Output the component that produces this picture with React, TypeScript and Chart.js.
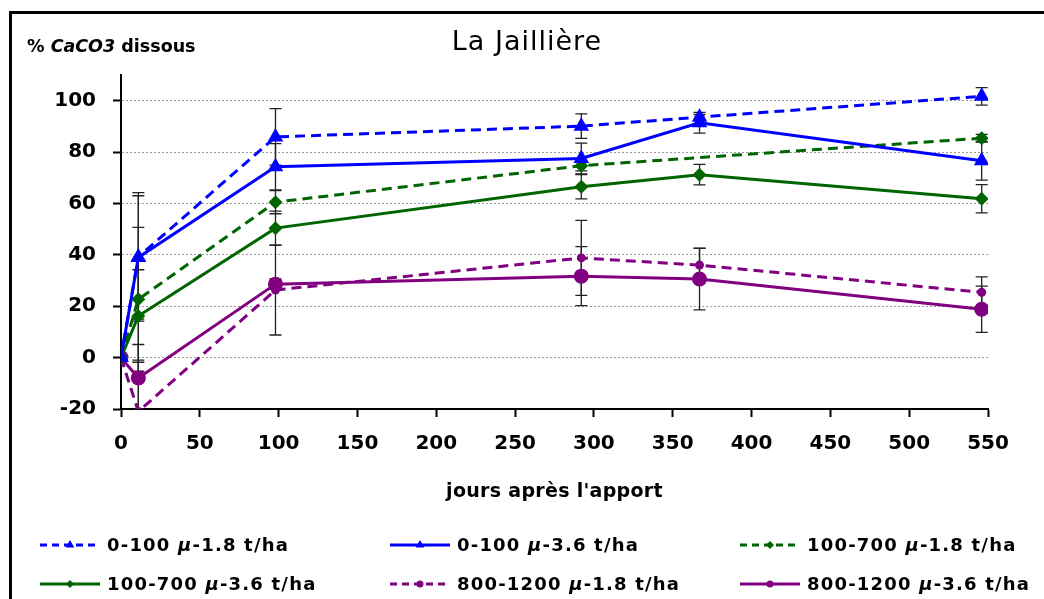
import React, { useEffect, useRef } from 'react';
import { Chart, registerables } from 'chart.js';

Chart.register(...registerables);

// ---------- data ----------
const days = [0, 11, 98, 292, 367, 546];

const seriesLabels = [
  '0-100 μ-1.8 t/ha',
  '0-100 μ-3.6 t/ha',
  '100-700 μ-1.8 t/ha',
  '100-700 μ-3.6 t/ha',
  '800-1200 μ-1.8 t/ha',
  '800-1200 μ-3.6 t/ha',
];

const s1Values = [0, 39.2, 85.9, 90.1, 93.6, 101.7];
const s2Values = [0, 39, 74.3, 77.5, 91.4, 76.6];
const s3Values = [0, 22.7, 60.5, 74.7, null, 85.4];
const s4Values = [0, 16.2, 50.4, 66.5, 71.2, 61.8];
const s5Values = [0, -21, 26.3, 38.8, 36, 25.4];
const s6Values = [0, -7.9, 28.6, 31.7, 30.6, 18.8];

const s1Errors = [0, 25, 11, 4.8, 1, 3.4];
const s2Errors = [0, 24, 9, 6, 4, 7.5];
const s3Errors = [0, 28, 4.5, 2, null, 1.5];
const s4Errors = [0, 18, 6.6, 4.7, 4, 5.5];
const s5Errors = [0, 20, 17.5, 14.6, 6.5, 6];
const s6Errors = [0, 13, 2, 11.5, 12, 9];

const yTickMax = 100;

const FONT = '"DejaVu Sans", sans-serif';

const values = [s1Values, s2Values, s3Values, s4Values, s5Values, s6Values];
const errors = [s1Errors, s2Errors, s3Errors, s4Errors, s5Errors, s6Errors];

const styles = [
  { color: '#0000FF', dashed: true, point: 'triangle', radius: 9, legendRadius: 5 },
  { color: '#0000FF', dashed: false, point: 'triangle', radius: 9, legendRadius: 5 },
  { color: '#006400', dashed: true, point: 'rectRot', radius: 7, legendRadius: 4 },
  { color: '#006400', dashed: false, point: 'rectRot', radius: 7, legendRadius: 4 },
  { color: '#800080', dashed: true, point: 'circle', radius: 4.5, legendRadius: 3.5 },
  { color: '#800080', dashed: false, point: 'circle', radius: 7.5, legendRadius: 3.5 },
];

function drawMarker(ctx: CanvasRenderingContext2D, kind: string, x: number, y: number, r: number) {
  ctx.beginPath();
  if (kind === 'triangle') {
    let rad = 0;
    ctx.moveTo(x + Math.sin(rad) * r, y - Math.cos(rad) * r);
    rad += (2 * Math.PI) / 3;
    ctx.lineTo(x + Math.sin(rad) * r, y - Math.cos(rad) * r);
    rad += (2 * Math.PI) / 3;
    ctx.lineTo(x + Math.sin(rad) * r, y - Math.cos(rad) * r);
    ctx.closePath();
  } else if (kind === 'rectRot') {
    ctx.moveTo(x - r, y);
    ctx.lineTo(x, y - r);
    ctx.lineTo(x + r, y);
    ctx.lineTo(x, y + r);
    ctx.closePath();
  } else {
    ctx.arc(x, y, r, 0, Math.PI * 2);
  }
  ctx.fill();
}

function drawSegments(
  ctx: CanvasRenderingContext2D,
  text: string,
  italicPart: string,
  x: number,
  y: number,
  size: number,
  spacing: number,
  align: 'left' | 'center',
  weight: string
) {
  const parts: { t: string; it: boolean }[] = [];
  const idx = italicPart ? text.indexOf(italicPart) : -1;
  if (idx >= 0) {
    parts.push({ t: text.slice(0, idx), it: false });
    parts.push({ t: italicPart, it: true });
    parts.push({ t: text.slice(idx + italicPart.length), it: false });
  } else {
    parts.push({ t: text, it: false });
  }
  (ctx as any).letterSpacing = spacing + 'px';
  const fontFor = (it: boolean) => `${it ? 'italic ' : ''}${weight} ${size}px ${FONT}`;
  let total = 0;
  for (const p of parts) {
    ctx.font = fontFor(p.it);
    total += ctx.measureText(p.t).width;
  }
  let cx = align === 'center' ? x - total / 2 : x;
  for (const p of parts) {
    ctx.font = fontFor(p.it);
    ctx.fillText(p.t, cx, y);
    cx += ctx.measureText(p.t).width;
  }
  (ctx as any).letterSpacing = '0px';
}

const overlayPlugin = {
  id: 'overlay',
  beforeDatasetsDraw(chart: any) {
    const ctx: CanvasRenderingContext2D = chart.ctx;
    const xs = chart.scales.x;
    const ys = chart.scales.y;
    const area = chart.chartArea;
    ctx.save();
    ctx.beginPath();
    ctx.rect(area.left, area.top, area.right - area.left, area.bottom - area.top);
    ctx.clip();
    ctx.strokeStyle = '#222';
    ctx.lineWidth = 1.3;
    values.forEach((vals, i) => {
      vals.forEach((v, j) => {
        const e = errors[i][j];
        if (v === null || e === null || !e) return;
        const px = xs.getPixelForValue(days[j]);
        const yTop = ys.getPixelForValue((v as number) + (e as number));
        const yBot = ys.getPixelForValue((v as number) - (e as number));
        ctx.beginPath();
        ctx.moveTo(px, yTop);
        ctx.lineTo(px, yBot);
        ctx.moveTo(px - 6, yTop);
        ctx.lineTo(px + 6, yTop);
        ctx.moveTo(px - 6, yBot);
        ctx.lineTo(px + 6, yBot);
        ctx.stroke();
      });
    });
    ctx.restore();
  },
  afterDraw(chart: any) {
    const ctx: CanvasRenderingContext2D = chart.ctx;
    const area = chart.chartArea;
    ctx.save();
    ctx.fillStyle = '#000';
    ctx.textBaseline = 'alphabetic';
    ctx.textAlign = 'left';
    // title
    drawSegments(ctx, 'La Jaillière', '', 527, 50, 27, 1, 'center', 'normal');
    // y axis label
    drawSegments(ctx, '% CaCO3 dissous', 'CaCO3', 27, 52, 17.5, 0, 'left', 'bold');
    // x axis label
    drawSegments(ctx, "jours après l'apport", '', (area.left + area.right) / 2, 497, 19, 0.3, 'center', 'bold');

    // legend
    const colX = [40, 390, 740];
    const rowY = [545, 584];
    seriesLabels.forEach((label, i) => {
      const col = i % 3;
      const row = Math.floor(i / 3);
      const st = styles[i];
      const x0 = colX[col];
      const y0 = rowY[row];
      ctx.strokeStyle = st.color;
      ctx.fillStyle = st.color;
      ctx.lineWidth = 3;
      ctx.setLineDash(st.dashed ? [7, 5] : []);
      ctx.beginPath();
      ctx.moveTo(x0, y0);
      ctx.lineTo(x0 + 60, y0);
      ctx.stroke();
      ctx.setLineDash([]);
      drawMarker(ctx, st.point, x0 + 30, y0, st.legendRadius);
      ctx.fillStyle = '#000';
      ctx.textBaseline = 'middle';
      drawSegments(ctx, label, 'μ', x0 + 67, y0 + 1, 18, 1.2, 'left', 'bold');
      ctx.textBaseline = 'alphabetic';
    });
    ctx.restore();
  },
};

export default function App() {
  const ref = useRef<HTMLCanvasElement>(null);

  useEffect(() => {
    if (!ref.current) return;
    const datasets = values.map((vals, i) => {
      const st = styles[i];
      return {
        label: seriesLabels[i],
        data: days.map((d, j) => ({ x: d, y: vals[j] })),
        borderColor: st.color,
        backgroundColor: st.color,
        borderWidth: 3,
        borderDash: st.dashed ? [10, 6] : [],
        pointStyle: st.point,
        pointRadius: st.radius,
        pointBorderWidth: 0,
        pointBackgroundColor: st.color,
        pointBorderColor: st.color,
        spanGaps: true,
        tension: 0,
        fill: false,
      };
    });

    const chart = new Chart(ref.current, {
      type: 'line',
      data: { datasets: datasets as any },
      plugins: [overlayPlugin as any],
      options: {
        animation: false,
        responsive: false,
        maintainAspectRatio: false,
        layout: { padding: { left: 31, right: 56, top: 75, bottom: 80 } },
        plugins: {
          legend: { display: false },
          tooltip: { enabled: false },
          title: { display: false },
        },
        scales: {
          x: {
            type: 'linear',
            min: 0,
            max: 550,
            ticks: {
              stepSize: 50,
              color: '#000',
              font: { family: FONT, size: 20, weight: 'bold' },
              padding: 15,
              maxRotation: 0,
            },
            grid: {
              drawOnChartArea: false,
              drawTicks: true,
              tickLength: 8,
              tickColor: '#000',
              tickWidth: 2,
            },
            border: { color: '#000', width: 2 },
            afterFit: (s: any) => {
              s.height = 110;
            },
          },
          y: {
            type: 'linear',
            min: -20,
            max: 110,
            ticks: {
              stepSize: 20,
              color: '#000',
              font: { family: FONT, size: 20, weight: 'bold' },
              padding: 17,
            },
            afterBuildTicks: (s: any) => {
              s.ticks = s.ticks.filter((t: any) => t.value <= yTickMax);
            },
            grid: {
              color: (c: any) => (c.tick && c.tick.value === -20 ? 'rgba(0,0,0,0)' : '#9a9a9a'),
              lineWidth: 1,
              tickLength: 8,
              tickColor: '#000',
              tickWidth: 2,
              tickBorderDash: [],
            } as any,
            border: { color: '#000', width: 2, dash: [2, 2] },
            afterFit: (s: any) => {
              s.width = 90;
            },
          },
        },
      },
    });
    return () => chart.destroy();
  }, []);

  return (
    <div style={{ position: 'fixed', left: 0, top: 0, width: 1044, height: 599, background: '#fff', overflow: 'hidden' }}>
      <div
        style={{
          position: 'absolute',
          left: 9,
          top: 11,
          width: 1100,
          height: 700,
          borderTop: '3px solid #000',
          borderLeft: '3px solid #000',
        }}
      />
      <canvas ref={ref} width={1044} height={599} style={{ position: 'absolute', left: 0, top: 0, display: 'block' }} />
    </div>
  );
}
